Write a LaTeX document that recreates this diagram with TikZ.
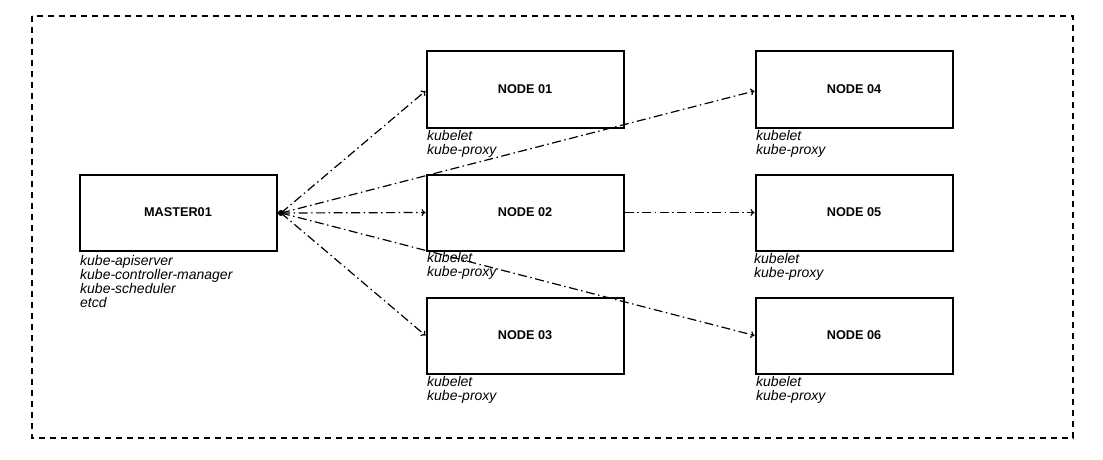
\documentclass[tikz,border=0pt]{standalone}
\usepackage{fontspec}
\setmainfont{Liberation Sans}
\usetikzlibrary{arrows.meta}
\begin{document}
\begin{tikzpicture}[x=1pt,y=-1pt,
  box/.style={draw, line width=2pt, minimum width=197pt, minimum height=76pt, inner sep=0pt, font=\fontsize{12.7}{14}\selectfont\bfseries},
  lbl/.style={anchor=north west, inner sep=0pt, align=left, font=\fontsize{14}{14}\selectfont\itshape},
  conn/.style={line width=1.2pt, dash pattern=on 9pt off 3.5pt on 1.5pt off 3.5pt, -{To[length=4pt,width=7pt]}}]
\useasboundingbox (0,0) rectangle (1103,460);
\draw[line width=1.6pt, dash pattern=on 6pt off 5pt] (32,16) rectangle (1073,438);
\node[box] (m) at (178,212.5) {MASTER01};
\node[box] (n1) at (525,89.5) {NODE 01};
\node[box] (n2) at (525,212.5) {NODE 02};
\node[box] (n3) at (525,335.5) {NODE 03};
\node[box] (n4) at (854,89.5) {NODE 04};
\node[box] (n5) at (854,212.5) {NODE 05};
\node[box] (n6) at (854,335.5) {NODE 06};
\node[lbl] (ml) at (80,255) {kube-apiserver\\kube-controller-manager\\kube-scheduler\\etcd};
\node[lbl] (l1) at (427,130) {kubelet\\kube-proxy};
\node[lbl] (l2) at (427,252) {kubelet\\kube-proxy};
\node[lbl] (l3) at (427,376) {kubelet\\kube-proxy};
\node[lbl] (l4) at (756,130) {kubelet\\kube-proxy};
\node[lbl] (l5) at (754,253) {kubelet\\kube-proxy};
\node[lbl] (l6) at (756,376) {kubelet\\kube-proxy};
\coordinate (ms) at (281,213);
\fill (ms) circle (3pt);
\draw[conn] (ms) -- ([yshift=-1.5pt]n1.west);
\draw[conn] (ms) -- ([yshift=-1.5pt]n4.west);
\draw[conn] (ms) -- (n2.west);
\draw[conn] (ms) -- (n3.west);
\draw[conn] (ms) -- (n6.west);
\draw[conn] (n2.east) -- (n5.west);
\end{tikzpicture}
\end{document}
